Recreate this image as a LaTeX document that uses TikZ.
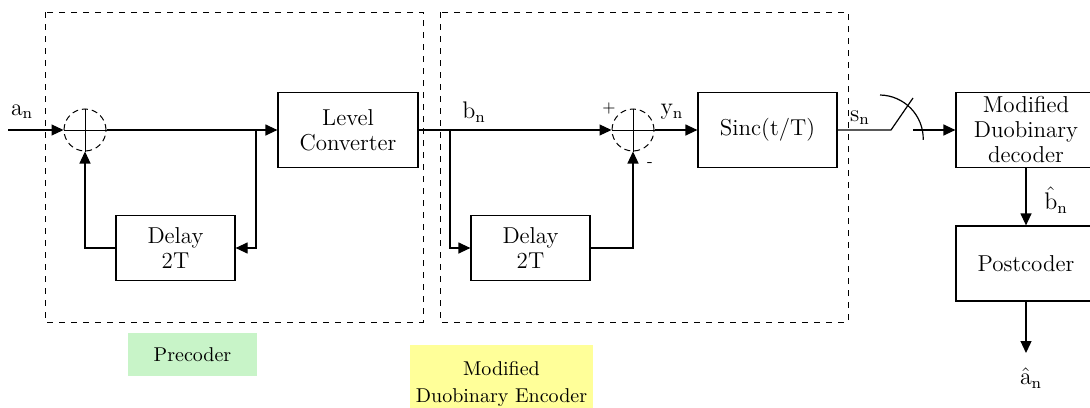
\documentclass[tikz,border=0pt]{standalone}
\usetikzlibrary{arrows.meta,positioning,calc}
\definecolor{lblgreen}{HTML}{C8F4C8}
\definecolor{lblyellow}{HTML}{FFFF99}
\tikzset{
  % plain block with a thin black outline
  blk/.style  = {rectangle, draw, line width=0.6pt, align=center, inner sep=2pt,
                 font=\fontsize{11.5}{12.5}\selectfont},
  summer/.style = {circle, draw, densely dashed, line width=0.5pt, minimum size=21pt, inner sep=0pt},
  sig/.style  = {-{Triangle[length=6pt,width=5.5pt]}, line width=0.6pt},
  wire/.style = {line width=0.6pt},
  grp/.style  = {draw, dashed, line width=0.5pt},
  tag/.style  = {font=\fontsize{12}{13}\selectfont, inner sep=0pt},
  lbl/.style  = {align=center, font=\fontsize{10}{13.5}\selectfont, inner sep=0pt},
}
\begin{document}
\begin{tikzpicture}[x=0.5pt, y=0.5pt]
\useasboundingbox (0,0) rectangle (1090,-407);
% --- dashed groups ----------------------------------------------------
\draw[grp] (45,-12) rectangle (423,-322);
\draw[grp] (440,-12) rectangle (848,-322);

% --- blocks -----------------------------------------------------------
\node[summer] (sum1) at (85,-130) {};
\node[blk, minimum width=70pt, minimum height=37.5pt]   (lc)   at (348,-130)   {Level\\Converter};
\node[blk, minimum width=59.5pt, minimum height=32.5pt] (d1)   at (175.5,-248) {Delay\\2T};
\node[summer] (sum2) at (633,-130) {};
\node[blk, minimum width=59.5pt, minimum height=32.5pt] (d2)   at (530.5,-248) {Delay\\2T};
\node[blk, minimum width=69.5pt, minimum height=37.5pt] (sinc) at (767.5,-130) {Sinc(t/T)};
\node[blk, minimum width=70pt, minimum height=37.5pt]   (dec)  at (1026,-130)  {Modified\\Duobinary\\decoder};
\node[blk, minimum width=70pt, minimum height=37.5pt]   (post) at (1026,-263.5){Postcoder};
\foreach \s in {sum1, sum2} {
  \draw[line width=0.5pt] (\s.north) -- (\s.south);
  \draw[line width=0.5pt] (\s.west) -- (\s.east);
}

% --- connectors -------------------------------------------------------
\coordinate (in)  at (8,-130);
\coordinate (br1) at (256,-130);
\coordinate (br2) at (450,-130);
\coordinate (sw1) at (891,-130);
\coordinate (sw2) at (913,-98);
\coordinate (sw3) at (913,-130);
\coordinate (out) at (1026,-353);
\draw[sig] (in) -- (sum1.west);
\draw[sig] (sum1.east) -- (lc.west);
\draw[sig] (br1) |- (d1.east);
\draw[sig] (d1.west) -| (sum1.south);
\draw[sig] (lc.east) -- (sum2.west);
\draw[sig] (br2) |- (d2.west);
\draw[sig] (d2.east) -| (sum2.south);
\draw[sig] (sum2.east) -- (sinc.west);
\draw[wire] (sinc.east) -- (sw1) -- (sw2);
\draw[wire] (880,-95) arc[start angle=89, end angle=-1, radius=22pt];
\draw[sig] (sw3) -- (dec.west);
\draw[sig] (dec.south) -- (post.north);
\draw[sig] (post.south) -- (out);

% --- signal labels ----------------------------------------------------
\node[tag] (an)  at (22,-112)   {$\mathrm{a}_{\mathrm{n}}$};
\node[tag] (bn)  at (474,-112)  {$\mathrm{b}_{\mathrm{n}}$};
\node[tag] (pl)  at (609,-108)  {\footnotesize +};
\node[tag] (mi)  at (650,-165)  {\footnotesize -};
\node[tag] (yn)  at (672,-112)  {$\mathrm{y}_{\mathrm{n}}$};
\node[tag] (sn)  at (860,-118)  {$\mathrm{s}_{\mathrm{n}}$};
\node[tag] (bh)  at (1056,-200) {$\hat{\mathrm{b}}_{\mathrm{n}}$};
\node[tag] (ah)  at (1031,-378) {$\hat{\mathrm{a}}_{\mathrm{n}}$};

% --- group captions ---------------------------------------------------
\node[lbl, fill=lblgreen, minimum width=64.5pt, minimum height=21.5pt] (pre) at (192.5,-354.5) {Precoder};
\node[lbl, fill=lblyellow, minimum width=91.5pt, minimum height=39pt] (enc) at (501.5,-384) {Modified\\Duobinary Encoder};
\end{tikzpicture}
\end{document}
